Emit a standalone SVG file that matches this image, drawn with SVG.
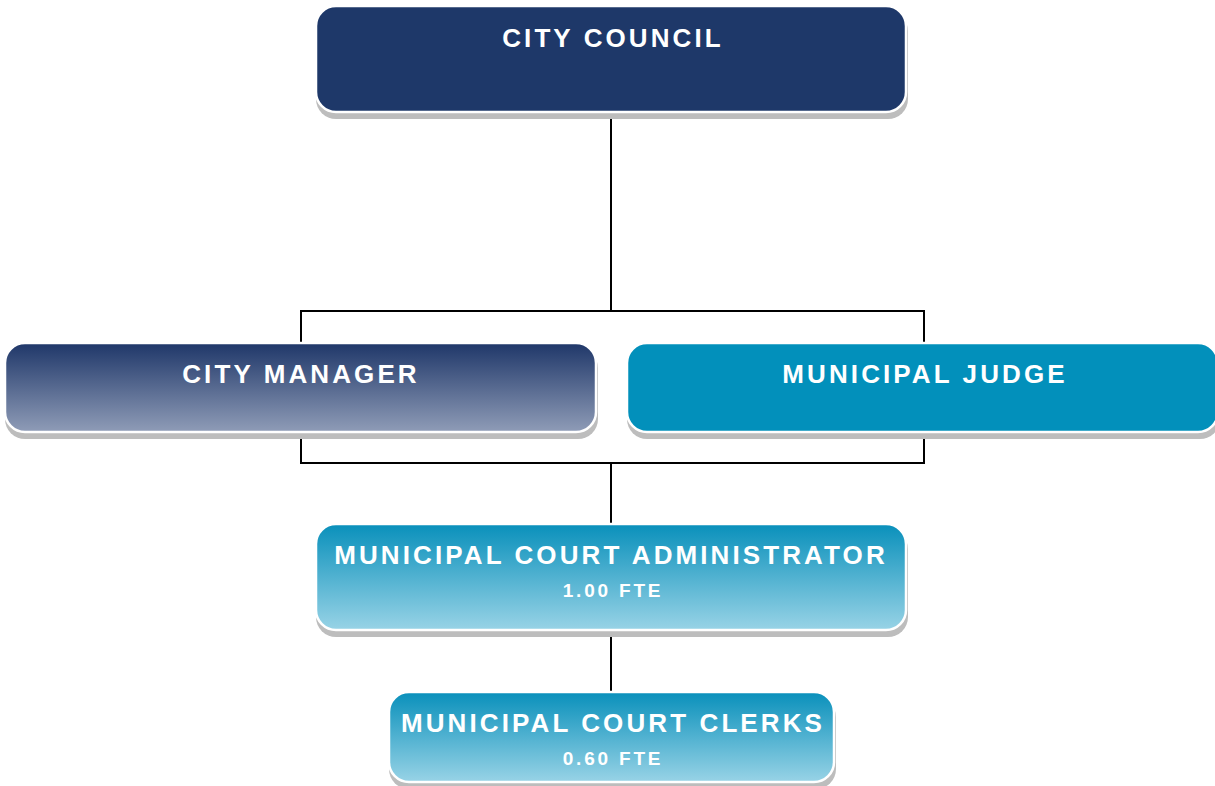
<svg xmlns="http://www.w3.org/2000/svg" width="1215" height="786" viewBox="0 0 1215 786">
<defs>
<linearGradient id="gMgr" x1="0" y1="0" x2="0" y2="1"><stop offset="0" stop-color="#1f3769"/><stop offset="1" stop-color="#8f9cb7"/></linearGradient>
<linearGradient id="gAdm" x1="0" y1="0" x2="0" y2="1"><stop offset="0" stop-color="#0990bb"/><stop offset="1" stop-color="#98d3e6"/></linearGradient>
<style>
.shadow{fill:#bdbdbd}
.box{stroke:#ffffff;stroke-width:2.5}
.t{font-family:"Liberation Sans",Arial,sans-serif;font-weight:bold;fill:#ffffff;text-anchor:middle}
.big{font-size:26px;letter-spacing:3.1px}
.small{font-size:19px;letter-spacing:2.8px}
.conn{stroke:#000000;stroke-width:2;fill:none}
</style>
</defs>
<g id="connectors">
<path class="conn" d="M611 114 V311 M301 343 V311 H924 V343"/>
<path class="conn" d="M301 432 V463 H924 V432 M611 463 V524"/>
<path class="conn" d="M611 630 V692"/>
</g>
<g id="city-council">
<rect class="shadow" x="316" y="11" width="592" height="108" rx="20"/>
<rect class="box" x="316" y="6" width="590" height="106" rx="20" fill="#1e3869"/>
<text class="t big" x="613" y="47">CITY COUNCIL</text>
</g>
<g id="city-manager">
<rect class="shadow" x="5" y="348" width="593" height="91" rx="20"/>
<rect class="box" x="5" y="343" width="591" height="89" rx="20" fill="url(#gMgr)"/>
<text class="t big" x="301" y="383">CITY MANAGER</text>
</g>
<g id="municipal-judge">
<rect class="shadow" x="627" y="348" width="593" height="91" rx="20"/>
<rect class="box" x="627" y="343" width="591" height="89" rx="20" fill="#0290bb"/>
<text class="t big" x="925" y="383">MUNICIPAL JUDGE</text>
</g>
<g id="court-administrator">
<rect class="shadow" x="316" y="529" width="592" height="108" rx="20"/>
<rect class="box" x="316" y="524" width="590" height="106" rx="20" fill="url(#gAdm)"/>
<text class="t big" x="611" y="564">MUNICIPAL COURT ADMINISTRATOR</text>
<text class="t small" x="613" y="597">1.00 FTE</text>
</g>
<g id="court-clerks">
<rect class="shadow" x="389" y="697" width="447" height="92" rx="20"/>
<rect class="box" x="389" y="692" width="445" height="90" rx="20" fill="url(#gAdm)"/>
<text class="t big" x="613" y="732">MUNICIPAL COURT CLERKS</text>
<text class="t small" x="613" y="765">0.60 FTE</text>
</g>
</svg>
